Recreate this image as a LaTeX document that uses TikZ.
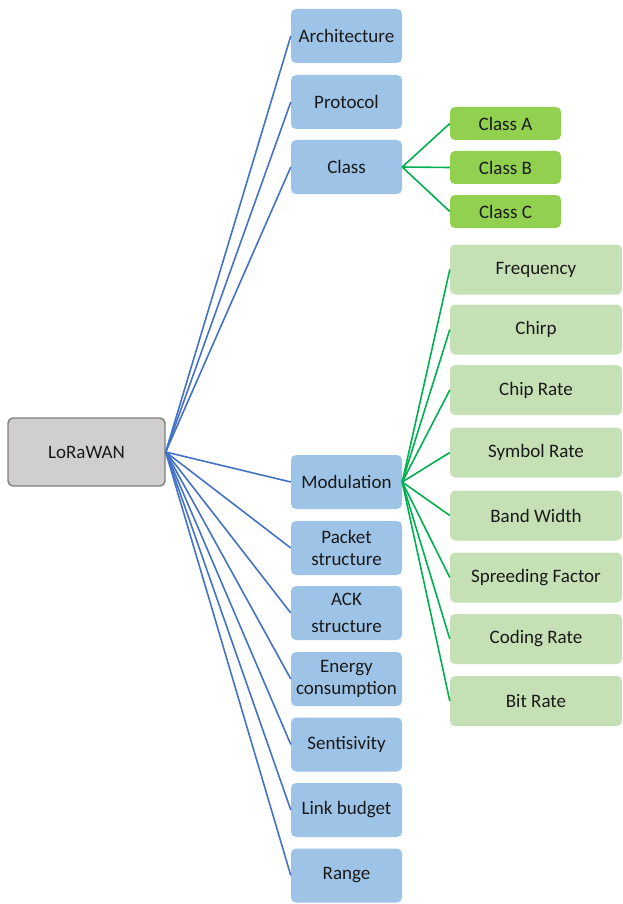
\documentclass[tikz,border=0pt]{standalone}
\usepackage{fontspec}
\setmainfont{Carlito}
\definecolor{topicblue}{HTML}{9DC3E6}
\definecolor{linkblue}{HTML}{4472C4}
\definecolor{classgreen}{HTML}{92D050}
\definecolor{paramgreen}{HTML}{C5E0B4}
\definecolor{linkgreen}{HTML}{00B050}
\definecolor{rootgray}{HTML}{D0CECE}
\definecolor{rootedge}{HTML}{7F7F7F}
\definecolor{ink}{HTML}{1A1A1A}
\tikzset{
  base/.style={rectangle, rounded corners=5pt, inner sep=2pt, align=center,
    text=ink, font=\fontsize{19}{21.5}\selectfont},
  rootbox/.style={base, fill=rootgray, draw=rootedge, line width=1.4pt,
    minimum width=157pt, minimum height=68pt},
  topicbox/.style={base, fill=topicblue, minimum width=111pt, minimum height=54pt},
  classbox/.style={base, fill=classgreen, minimum width=111pt, minimum height=33pt},
  parambox/.style={base, fill=paramgreen, minimum width=172pt, minimum height=50pt},
  bluelink/.style={draw=linkblue, line width=1.6pt},
  greenlink/.style={draw=linkgreen, line width=1.6pt}
}
\begin{document}
\begin{tikzpicture}[x=1pt, y=-1pt]
\useasboundingbox (0,0) rectangle (623,904);

% root
\node[rootbox] (root) at (86.5,452) {LoRaWAN};

% first-level topics
\node[topicbox] (arch)  at (346.5,36)    {Architecture};
\node[topicbox] (proto) at (346.5,102)   {Protocol};
\node[topicbox] (class) at (346.5,167)   {Class};
\node[topicbox] (mod)   at (346.5,482)   {Modulation};
\node[topicbox] (pkt)   at (346.5,548)   {Packet\\structure};
\node[topicbox] (ack)   at (346.5,613)   {ACK\\[6pt]structure};
\node[topicbox] (energy) at (346.5,679)  {Energy\\consumption};
\node[topicbox] (sens)  at (346.5,744.5) {Sentisivity};
\node[topicbox] (link)  at (346.5,810)   {Link budget};
\node[topicbox] (range) at (346.5,875.5) {Range};

% device classes
\node[classbox] (ca) at (505.5,123.5) {Class A};
\node[classbox] (cb) at (505.5,167.5) {Class B};
\node[classbox] (cc) at (505.5,211.5) {Class C};

% modulation parameters
\node[parambox] (freq)  at (536,269.5) {Frequency};
\node[parambox] (chirp) at (536,329.5) {Chirp};
\node[parambox] (chip)  at (536,390)   {Chip Rate};
\node[parambox] (sym)   at (536,452.5) {Symbol Rate};
\node[parambox] (bw)    at (536,515.5) {Band Width};
\node[parambox] (sf)    at (536,577.5) {Spreeding Factor};
\node[parambox] (cr)    at (536,639)   {Coding Rate};
\node[parambox] (br)    at (536,701)   {Bit Rate};

% connectors
\foreach \t in {arch,proto,class,mod,pkt,ack,energy,sens,link,range}
  \draw[bluelink] (root.east) -- (\t.west);
\foreach \t in {ca,cb,cc}
  \draw[greenlink] (class.east) -- (\t.west);
\foreach \t in {freq,chirp,chip,sym,bw,sf,cr,br}
  \draw[greenlink] (mod.east) -- (\t.west);
\end{tikzpicture}
\end{document}
